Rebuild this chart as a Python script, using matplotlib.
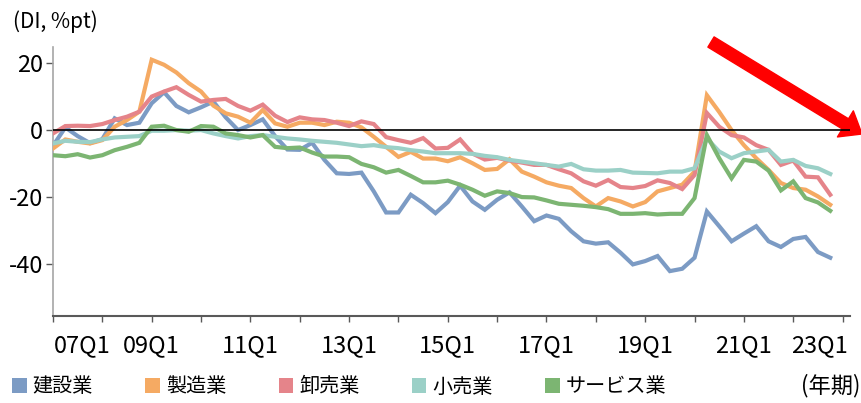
import matplotlib
matplotlib.use('Agg')
import matplotlib.pyplot as plt
from matplotlib.patches import Patch

plt.rcParams['font.family'] = ['Noto Sans CJK JP', 'DejaVu Sans']

# 四半期ごとのDI (07Q1起点)
kensetsu = [-4.7, 0.8, -1.8, -3.9, -2.7, 3.5, 1.5, 2.2, 8.0, 11.3, 7.2, 5.3, 6.8, 8.5, 3.8, 0.0,
            1.5, 3.2, -1.8, -5.8, -5.9, -3.8, -8.9, -12.9, -13.1, -12.7, -18.3, -24.6, -24.6, -19.3, -21.8, -24.8,
            -21.5, -16.6, -21.3, -23.8, -20.8, -18.6, -22.8, -27.2, -25.5, -26.5, -30.2, -33.2, -33.9, -33.5, -36.6, -40.1,
            -39.1, -37.6, -42.1, -41.4, -38.1, -24.3, -28.7, -33.2, -30.9, -28.7, -33.2, -34.9, -32.5, -31.9, -36.4, -38.1]
seizou = [-5.5, -2.8, -3.5, -4.0, -3.0, 1.0, 3.0, 5.5, 21.0, 19.5, 17.2, 14.0, 11.5, 7.3, 5.0, 4.0,
          2.2, 6.0, 2.0, 1.0, 2.2, 2.2, 1.5, 2.5, 2.2, 0.8, -2.0, -5.0, -8.0, -6.5, -8.5, -8.5,
          -9.3, -8.1, -9.9, -11.9, -11.6, -8.7, -12.4, -13.9, -15.6, -16.6, -17.3, -20.3, -22.8, -20.3, -21.3, -22.8,
          -21.5, -18.3, -17.3, -16.3, -12.4, 10.4, 5.4, 0.0, -4.5, -8.4, -11.9, -15.8, -17.3, -17.8, -19.8, -22.3]
oroshi = [-1.0, 1.2, 1.3, 1.2, 1.8, 3.0, 4.0, 5.5, 10.0, 11.5, 12.8, 10.5, 8.5, 9.0, 9.3, 7.2,
          5.8, 7.6, 4.3, 2.4, 3.8, 3.2, 3.0, 2.2, 1.2, 2.6, 1.8, -2.1, -3.0, -3.8, -2.4, -5.5,
          -5.3, -2.8, -7.0, -8.8, -8.3, -9.1, -9.7, -10.4, -10.4, -11.7, -12.9, -15.3, -16.6, -14.9, -17.0, -17.3,
          -16.7, -15.0, -15.8, -17.6, -13.4, 5.1, 1.0, -1.5, -2.2, -4.5, -5.9, -10.4, -9.1, -13.9, -14.1, -19.3]
kouri = [-4.0, -3.2, -3.5, -3.6, -2.8, -2.2, -2.0, -1.8, -0.2, -0.2, 0.0, -0.2, 0.0, -1.0, -1.8, -2.5,
         -1.8, -1.5, -2.0, -2.5, -2.8, -3.2, -3.5, -3.8, -4.3, -4.8, -4.5, -5.1, -5.4, -6.0, -6.4, -6.9,
         -6.9, -6.9, -7.1, -7.7, -8.1, -8.9, -9.4, -9.9, -10.4, -10.9, -10.1, -11.7, -12.1, -12.1, -11.9, -12.7,
         -12.8, -12.9, -12.4, -12.4, -11.4, -2.5, -6.4, -8.4, -6.9, -6.4, -5.9, -9.4, -8.9, -10.7, -11.4, -13.1]
service = [-7.5, -7.8, -7.2, -8.2, -7.5, -6.0, -5.0, -3.8, 1.0, 1.3, 0.0, -0.5, 1.2, 1.0, -1.0, -1.5,
           -2.2, -1.5, -5.0, -5.4, -5.2, -6.7, -7.9, -7.9, -8.1, -10.1, -11.1, -12.7, -11.9, -13.7, -15.6, -15.6,
           -15.1, -16.3, -17.8, -19.6, -18.3, -18.8, -20.0, -20.1, -21.0, -22.0, -22.3, -22.6, -23.0, -23.6, -25.0, -25.0,
           -24.8, -25.2, -25.0, -25.0, -20.3, -1.5, -8.4, -14.4, -8.9, -9.4, -12.1, -18.0, -15.3, -20.3, -21.6, -24.1]

series = [kensetsu, seizou, oroshi, kouri, service]
names = ['建設業', '製造業', '卸売業', '小売業', 'サービス業']
colors = ['#7c9bc4', '#f5aa63', '#e5848a', '#9bd0c7', '#7cb572']

tick_labels = ['07Q1', '09Q1', '11Q1', '13Q1', '15Q1', '17Q1', '19Q1', '21Q1', '23Q1']
label_pos = [2.35, 8, 16, 24, 32, 40, 48, 56, 62.1]

fig = plt.figure(figsize=(8.61, 4.03), dpi=100)
ax = fig.add_axes([53/861, 1 - 316/403, (850 - 53)/861, (316 - 47)/403])

x = list(range(len(kensetsu)))
for i, (s, c) in enumerate(zip(series, colors)):
    ax.plot(x, s, color=c, lw=3, solid_joinstyle='miter', zorder=2 + i)

ax.axhline(0, color='black', lw=1.2, zorder=10)

ax.set_xlim(0, 64.6)
ax.set_ylim(-55.5, 24.8)

ax.spines['top'].set_visible(False)
ax.spines['right'].set_visible(False)
ax.spines['left'].set_color('#a6a6a6')
ax.spines['left'].set_linewidth(1.2)
ax.spines['bottom'].set_color('#595959')
ax.spines['bottom'].set_linewidth(1.5)

ax.set_yticks([20, 0, -20, -40])
ax.set_yticklabels(['20', '0', '-20', '-40'])
ax.tick_params(axis='y', length=5, width=1, color='#595959', labelsize=17, pad=2)

# 年ごとの目盛り線と、ずらした位置のラベル
ax.xaxis.remove_overlapping_locs = False
ax.set_xticks(range(0, 65, 4))
ax.set_xticklabels([])
ax.set_xticks(label_pos, minor=True)
ax.set_xticklabels(tick_labels, minor=True)
ax.tick_params(axis='x', which='major', length=4, width=1, color='#595959')
ax.tick_params(axis='x', which='minor', length=0, labelsize=17, pad=13)

fig.text(13/861, 1 - 22/403, '(DI, %pt)', fontsize=15, va='center', ha='left')
fig.text(0.999, 1 - 386/403, '(年期)', fontsize=16, va='center', ha='right')

handles = [Patch(facecolor=c, edgecolor='none') for c in colors]
fig.legend(handles, names, loc='center left', bbox_to_anchor=(12/861, 1 - 387/403),
           ncol=5, frameon=False, fontsize=14.5, handlelength=0.72, handleheight=0.72,
           handletextpad=0.3, columnspacing=2.6, borderpad=0, borderaxespad=0)

ax.annotate('', xy=(862, 403 - 134), xytext=(711, 403 - 42),
            xycoords='figure pixels', textcoords='figure pixels',
            arrowprops=dict(arrowstyle='simple, tail_width=0.86, head_width=2.2, head_length=1.4',
                            mutation_scale=10, color='#ff0000', shrinkA=0, shrinkB=0),
            annotation_clip=False)

fig.savefig('out.png', dpi=100)
